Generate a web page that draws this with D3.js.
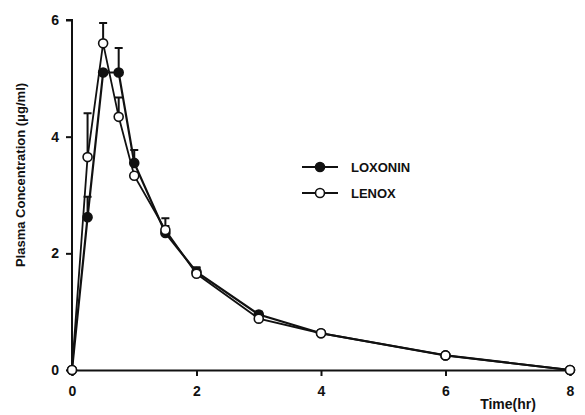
<!DOCTYPE html>
<html>
<head>
<meta charset="utf-8">
<script src="https://cdn.jsdelivr.net/npm/d3@7"></script>
<style>
  body { margin: 0; background: #fff; }
  text { font-family: "Liberation Sans", Arial, sans-serif; font-weight: bold; fill: #111; }
</style>
</head>
<body>
<div id="chart"></div>
<script>
const times = [0, 0.25, 0.5, 0.75, 1, 1.5, 2, 3, 4, 6, 8];
const loxonin = [0, 2.62, 5.1, 5.1, 3.55, 2.35, 1.68, 0.95, 0.63, 0.25, 0];
const loxoninErr = [0, 0.35, 0, 0.42, 0.22, 0.12, 0.08, 0.05, 0, 0, 0];
const lenox = [0, 3.65, 5.6, 4.34, 3.33, 2.4, 1.65, 0.88, 0.63, 0.25, 0];
const lenoxErr = [0, 0.75, 0.35, 0.33, 0, 0.2, 0.1, 0, 0, 0, 0];
const xTicks = [0, 2, 4, 6, 8];
const yTicks = [0, 2, 4, 6];

const width = 585, height = 415;
const svg = d3.select("#chart").append("svg").attr("width", width).attr("height", height);

const x = d3.scaleLinear().domain([0, 8]).range([72, 570]);
const y = d3.scaleLinear().domain([0, 6]).range([370, 20]);

// axes
const xAxis = svg.append("g").attr("transform", `translate(0,${y(0)})`)
	.call(d3.axisBottom(x).tickValues(xTicks).tickSize(6).tickPadding(10).tickFormat(d3.format("d")));
const yAxis = svg.append("g").attr("transform", `translate(${x(0)},0)`)
	.call(d3.axisLeft(y).tickValues(yTicks).tickSize(6).tickPadding(7).tickFormat(d3.format("d")));
[xAxis, yAxis].forEach((a) => {
	a.select(".domain").attr("stroke", "#111").attr("stroke-width", 2);
	a.selectAll(".tick line").attr("stroke", "#111").attr("stroke-width", 2);
	a.selectAll(".tick text").attr("font-size", 14).attr("font-family", "Liberation Sans, Arial, sans-serif").attr("font-weight", "bold").attr("fill", "#111");
});
yAxis.select(".domain").attr("d", `M-6,${y(6)}H0V${y(0)}`);

svg.append("text").attr("x", 508).attr("y", 409).attr("text-anchor", "middle").attr("font-size", 14).text("Time(hr)");
svg.append("text").attr("transform", `translate(25,175) rotate(-90)`)
	.attr("text-anchor", "middle").attr("font-size", 13).text("Plasma Concentration (μg/ml)");

const series = [
	{ name: "LOXONIN", vals: loxonin, err: loxoninErr, fill: "#111", lw: 2.2 },
	{ name: "LENOX", vals: lenox, err: lenoxErr, fill: "#fff", lw: 1.8 },
];

const line = d3.line().x((d) => x(d[0])).y((d) => y(d[1]));

series.forEach((s) => {
	const pts = times.map((t, i) => [t, s.vals[i], s.err[i]]);
	const g = svg.append("g");
	g.selectAll(".err").data(pts.filter((p) => p[2] > 0)).join("path")
		.attr("fill", "none").attr("stroke", "#111").attr("stroke-width", 2)
		.attr("d", (p) => `M${x(p[0])},${y(p[1])}V${y(p[1] + p[2])}M${x(p[0]) - 4},${y(p[1] + p[2])}h8`);
	g.append("path").datum(pts).attr("fill", "none").attr("stroke", "#111").attr("stroke-width", s.lw).attr("d", line);
	g.selectAll("circle").data(pts).join("circle")
		.attr("cx", (p) => x(p[0])).attr("cy", (p) => y(p[1])).attr("r", 4.5)
		.attr("fill", s.fill).attr("stroke", "#111").attr("stroke-width", 1.6);
});

// legend
const legend = svg.append("g");
series.forEach((s, i) => {
	const ly = 167 + i * 26;
	legend.append("line").attr("x1", 302).attr("x2", 338).attr("y1", ly).attr("y2", ly)
		.attr("stroke", "#111").attr("stroke-width", s.lw);
	legend.append("circle").attr("cx", 320).attr("cy", ly).attr("r", 4.5)
		.attr("fill", s.fill).attr("stroke", "#111").attr("stroke-width", 1.6);
	legend.append("text").attr("x", 351).attr("y", ly + 5).attr("font-size", 13).text(s.name);
});
</script>
</body>
</html>
